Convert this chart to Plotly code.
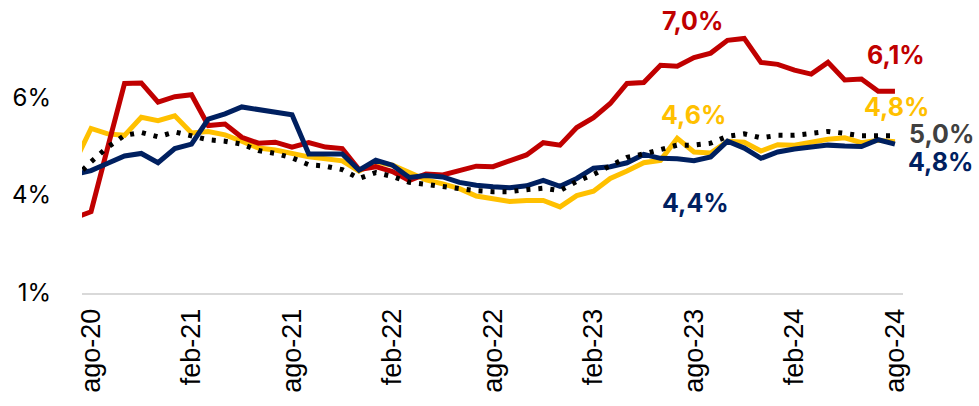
import plotly.graph_objects as go

months = ["jul-20", "ago-20", "sep-20", "oct-20", "nov-20", "dic-20",
          "ene-21", "feb-21", "mar-21", "abr-21", "may-21", "jun-21", "jul-21", "ago-21", "sep-21", "oct-21", "nov-21", "dic-21",
          "ene-22", "feb-22", "mar-22", "abr-22", "may-22", "jun-22", "jul-22", "ago-22", "sep-22", "oct-22", "nov-22", "dic-22",
          "ene-23", "feb-23", "mar-23", "abr-23", "may-23", "jun-23", "jul-23", "ago-23", "sep-23", "oct-23", "nov-23", "dic-23",
          "ene-24", "feb-24", "mar-24", "abr-24", "may-24", "jun-24", "jul-24", "ago-24"]

red_vals = [3.53, 3.66, 4.98, 6.28, 6.29, 5.90, 6.01, 6.05, 5.42, 5.45, 5.18, 5.06, 5.08, 4.98, 5.07, 4.98, 4.95,
            4.52, 4.58, 4.48, 4.30, 4.43, 4.41, 4.50, 4.59, 4.58, 4.71, 4.82, 5.07, 5.02, 5.38, 5.58, 5.87,
            6.28, 6.30, 6.65, 6.63, 6.81, 6.90, 7.16, 7.20, 6.71, 6.67, 6.55, 6.47, 6.71, 6.35, 6.37, 6.12, 6.12]

yellow_vals = [4.65, 5.36, 5.25, 5.22, 5.59, 5.52, 5.62, 5.27, 5.30, 5.23, 5.10, 4.96, 4.92, 4.84, 4.78, 4.74, 4.70,
               4.49, 4.68, 4.61, 4.46, 4.31, 4.23, 4.13, 3.98, 3.93, 3.87, 3.89, 3.89, 3.76, 3.99, 4.08, 4.34,
               4.49, 4.66, 4.71, 5.16, 4.88, 4.86, 5.10, 5.08, 4.90, 5.03, 5.02, 5.09, 5.14, 5.17, 5.07, 5.12, 5.09]

navy_vals = [4.42, 4.50, 4.65, 4.80, 4.85, 4.66, 4.95, 5.04, 5.55, 5.66, 5.80, 5.75, 5.70, 5.64, 4.84, 4.83, 4.84,
             4.51, 4.71, 4.61, 4.36, 4.40, 4.37, 4.26, 4.20, 4.17, 4.15, 4.19, 4.30, 4.18, 4.34, 4.55, 4.58,
             4.66, 4.83, 4.75, 4.74, 4.70, 4.78, 5.10, 4.96, 4.75, 4.88, 4.94, 4.98, 5.02, 5.00, 4.99, 5.13, 5.04]

black_vals = [4.34, 4.68, 4.98, 5.22, 5.28, 5.19, 5.29, 5.21, 5.13, 5.10, 5.04, 4.91, 4.85, 4.76, 4.62, 4.59, 4.52,
              4.34, 4.46, 4.38, 4.26, 4.22, 4.17, 4.12, 4.09, 4.07, 4.07, 4.11, 4.14, 4.09, 4.28, 4.42, 4.59,
              4.77, 4.84, 4.92, 5.02, 5.02, 5.06, 5.20, 5.25, 5.17, 5.22, 5.22, 5.26, 5.30, 5.26, 5.21, 5.21, 5.21]

tick_months = ["ago-20", "feb-21", "ago-21", "feb-22", "ago-22", "feb-23", "ago-23", "feb-24", "ago-24"]
y_tickvals = [2, 4, 6]
y_ticktext = ["1%", "4%", "6%"]

RED = "#C00000"
YELLOW = "#FFC000"
NAVY = "#002060"
BLACK = "#000000"
GRAY = "#404040"

fig = go.Figure()
fig.add_trace(go.Scatter(x=months, y=yellow_vals, mode="lines", line=dict(color=YELLOW, width=5), hoverinfo="skip"))
fig.add_trace(go.Scatter(x=months, y=red_vals, mode="lines", line=dict(color=RED, width=5), hoverinfo="skip"))
fig.add_trace(go.Scatter(x=months, y=navy_vals, mode="lines", line=dict(color=NAVY, width=5), hoverinfo="skip"))
fig.add_trace(go.Scatter(x=months, y=black_vals, mode="lines", line=dict(color=BLACK, width=5, dash="4px,8px"), hoverinfo="skip"))

labels = [
    ("7,0%", RED, 0.744, 0.961),
    ("6,1%", RED, 0.9915, 0.841),
    ("4,6%", YELLOW, 0.745, 0.629),
    ("4,8%", YELLOW, 0.9915, 0.657),
    ("5,0%", GRAY, 1.0475, 0.562),
    ("4,8%", NAVY, 1.046, 0.463),
    ("4,4%", NAVY, 0.7467, 0.318),
]
for txt, col, xp, yp in labels:
    fig.add_annotation(text="<b>" + txt + "</b>", x=xp, y=yp, xref="paper", yref="paper",
                       showarrow=False, xanchor="center", yanchor="middle",
                       font=dict(family="Inter", size=25, color=col))

fig.update_layout(
    width=979, height=406,
    margin=dict(l=82, r=76, t=10, b=113, autoexpand=False),
    paper_bgcolor="white", plot_bgcolor="white",
    showlegend=False,
    hovermode=False,
    xaxis=dict(type="category", range=[0.46, 49.48], tickmode="array", tickvals=tick_months,
               ticktext=tick_months, tickangle=-90, showgrid=False, zeroline=False,
               showline=True, linecolor="#D9D9D9", linewidth=2, ticks="",
               ticklabelstandoff=3, automargin=False,
               tickfont=dict(family="Liberation Sans", size=27, color="#000000")),
    yaxis=dict(range=[2, 7.78], tickmode="array", tickvals=y_tickvals, ticktext=y_ticktext,
               showgrid=False, zeroline=False, showline=False, ticks="",
               ticklabelstandoff=30, automargin=False,
               tickfont=dict(family="Inter", size=24, color="#000000")),
)

fig.write_html("out.html", config={"displayModeBar": False, "staticPlot": True},
               post_script="document.body.style.margin='0';document.body.style.overflow='hidden';")
